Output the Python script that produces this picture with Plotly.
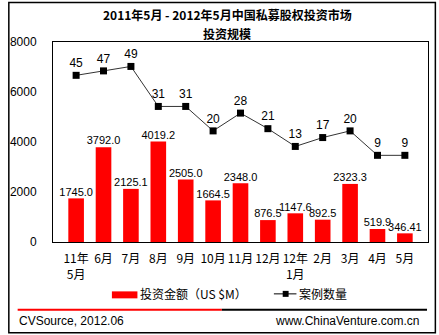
import plotly.graph_objects as go

months = ["11年<br>5月", "6月", "7月", "8月", "9月", "10月", "11月", "12月",
          "12年<br>1月", "2月", "3月", "4月", "5月"]
amounts = [1745.0, 3792.0, 2125.1, 4019.2, 2505.0, 1664.5, 2348.0, 876.5,
           1147.6, 892.5, 2323.3, 519.9, 346.41]
amount_labels = ["1745.0", "3792.0", "2125.1", "4019.2", "2505.0", "1664.5", "2348.0",
                 "876.5", "1147.6", "892.5", "2323.3", "519.9", "346.41"]
cases = [45, 47, 49, 31, 31, 20, 28, 21, 13, 17, 20, 9, 9]
series_names = ["投资金额（US $M）", "案例数量"]

W, H = 439, 335
L, R, T, B = 47, 429, 41.5, 242

def px(x):
    return (x - L) / (R - L)

def py(y):
    return (B - y) / (B - T)

num_font = "Arial, Liberation Sans, Noto Sans CJK SC"
cjk_font = "SimSun, Noto Sans CJK SC, Arial"

fig = go.Figure()
fig.add_trace(go.Bar(
    x=months, y=amounts, name=series_names[0], showlegend=False,
    marker=dict(color="#FF0000", line=dict(width=0)),
    width=0.57,
))
fig.add_trace(go.Scatter(
    x=months, y=amounts, mode="text", showlegend=False,
    text=amount_labels, textposition="top center", cliponaxis=False,
    textfont=dict(size=11, color="black", family=num_font), hoverinfo="skip",
))
fig.add_trace(go.Scatter(
    x=months, y=cases, name=series_names[1], yaxis="y2", showlegend=False,
    mode="lines+markers+text",
    line=dict(color="#333333", width=1),
    marker=dict(symbol="square", size=7, color="black"),
    text=[str(c) for c in cases], textposition="top center",
    textfont=dict(size=12, color="black", family=num_font),
    cliponaxis=False,
))

shapes = [
    dict(type="rect", xref="paper", yref="paper", x0=px(2), x1=px(436.5), y0=py(333), y1=py(2),
         line=dict(color="black", width=1.5), layer="below"),
    dict(type="line", xref="paper", yref="paper", x0=px(11), x1=px(219), y0=py(310), y1=py(310),
         line=dict(color="#FF0000", width=2)),
    dict(type="line", xref="paper", yref="paper", x0=px(219), x1=px(428), y0=py(310), y1=py(310),
         line=dict(color="black", width=2)),
    # legend symbols
    dict(type="rect", xref="paper", yref="paper", x0=px(107), x1=px(133), y0=py(298.5), y1=py(291.5),
         fillcolor="#FF0000", line=dict(width=0)),
    dict(type="line", xref="paper", yref="paper", x0=px(272), x1=px(295), y0=py(294), y1=py(294),
         line=dict(color="black", width=1)),
    dict(type="rect", xref="paper", yref="paper", x0=px(281), x1=px(287), y0=py(297), y1=py(291),
         fillcolor="black", line=dict(width=0)),
]

annotations = [
    dict(text="<b>2011年5月 - 2012年5月中国私募股权投资市场</b>",
         xref="paper", yref="paper", x=px(224.5), y=py(13.5), xanchor="center", yanchor="middle",
         showarrow=False, borderpad=0, font=dict(size=12, color="black", family=cjk_font)),
    dict(text="<b>投资规模</b>",
         xref="paper", yref="paper", x=px(224.5), y=py(32.5), xanchor="center", yanchor="middle",
         showarrow=False, borderpad=0, font=dict(size=12, color="black", family=cjk_font)),
    dict(text=series_names[0], xref="paper", yref="paper", x=px(134), y=py(294),
         xanchor="left", yanchor="middle", showarrow=False,
         font=dict(size=12, color="black", family=cjk_font)),
    dict(text=series_names[1], xref="paper", yref="paper", x=px(296), y=py(294),
         xanchor="left", yanchor="middle", showarrow=False,
         font=dict(size=12, color="black", family=cjk_font)),
    dict(text="CVSource, 2012.06", xref="paper", yref="paper", x=px(10), y=py(321),
         xanchor="left", yanchor="middle", showarrow=False,
         font=dict(size=12, color="black", family=num_font)),
    dict(text="www.ChinaVenture.com.cn", xref="paper", yref="paper", x=px(422), y=py(321),
         xanchor="right", yanchor="middle", showarrow=False,
         font=dict(size=12, color="black", family=num_font)),
]

fig.update_layout(
    width=W, height=H,
    margin=dict(l=L, r=W - R, t=T, b=H - B),
    paper_bgcolor="white", plot_bgcolor="white",
    font=dict(family=cjk_font, size=12, color="black"),
    showlegend=False,
    bargap=0.43,
    xaxis=dict(showline=True, linecolor="black", linewidth=1, mirror=True, ticks="",
               tickfont=dict(size=12, family=cjk_font), showgrid=False,
               ticklabelstandoff=6),
    yaxis=dict(range=[0, 8000], dtick=2000, showline=True, linecolor="black", linewidth=1,
               mirror=True, ticks="", showgrid=False, zeroline=False,
               tickfont=dict(size=12, family=num_font), ticklabelstandoff=13),
    yaxis2=dict(range=[-30, 60], overlaying="y", side="right", visible=False),
    shapes=shapes,
    annotations=annotations,
)

fig.write_html("out.html")
